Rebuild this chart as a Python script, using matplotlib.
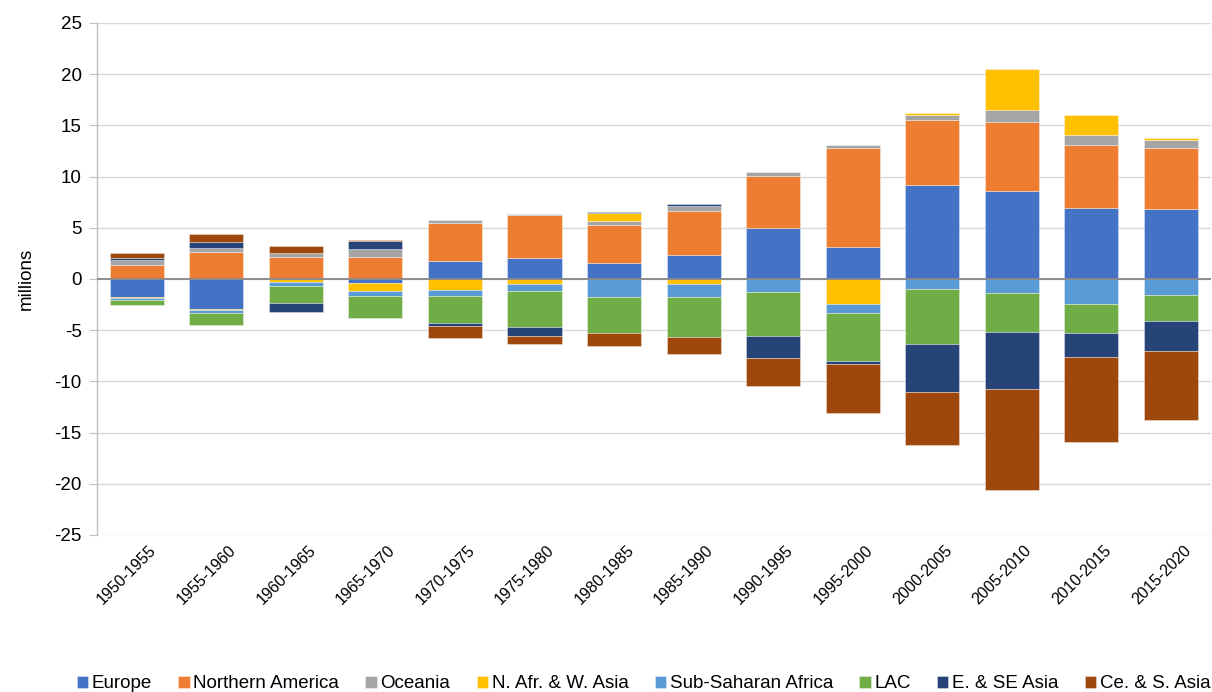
import matplotlib
matplotlib.use("Agg")
import matplotlib.pyplot as plt
import numpy as np

plt.rcParams['font.family'] = ['Liberation Sans', 'DejaVu Sans']
plt.rcParams['axes.unicode_minus'] = False

periods = ["1950-1955", "1955-1960", "1960-1965", "1965-1970", "1970-1975",
           "1975-1980", "1980-1985", "1985-1990", "1990-1995", "1995-2000",
           "2000-2005", "2005-2010", "2010-2015", "2015-2020"]

europe      = [-1.73, -2.90, 0.13, -0.36, 1.79, 2.02, 1.53, 2.38, 4.98, 3.16, 9.15, 8.56, 6.90, 6.84]
n_america   = [1.40, 2.60, 2.02, 2.15, 3.68, 4.23, 3.71, 4.23, 5.08, 9.60, 6.35, 6.77, 6.18, 5.92]
oceania     = [0.46, 0.46, 0.42, 0.81, 0.26, 0.08, 0.46, 0.49, 0.39, 0.33, 0.52, 1.17, 0.94, 0.78]
nafr_wasia  = [-0.16, -0.10, -0.33, -0.81, -1.10, -0.52, 0.72, -0.49, -0.05, -2.44, 0.16, 4.04, 1.95, 0.23]
ssa         = [-0.20, -0.33, -0.39, -0.46, -0.52, -0.68, -1.76, -1.30, -1.20, -0.88, -0.98, -1.37, -2.47, -1.53]
lac         = [-0.42, -1.14, -1.60, -2.15, -2.70, -3.52, -3.48, -3.90, -4.30, -4.69, -5.34, -3.78, -2.80, -2.60]
e_se_asia   = [0.16, 0.52, -0.94, 0.75, -0.23, -0.81, 0.16, 0.20, -2.21, -0.33, -4.72, -5.60, -2.31, -2.86]
ce_s_asia   = [0.55, 0.85, 0.62, 0.07, -1.20, -0.78, -1.33, -1.63, -2.67, -4.72, -5.18, -9.83, -8.33, -6.77]

series_names = ["Europe", "Northern America", "Oceania", "N. Afr. & W. Asia",
                "Sub-Saharan Africa", "LAC", "E. & SE Asia", "Ce. & S. Asia"]
series_values = [europe, n_america, oceania, nafr_wasia, ssa, lac, e_se_asia, ce_s_asia]
colors = ["#4472C4", "#ED7D31", "#A5A5A5", "#FFC000", "#5B9BD5", "#70AD47", "#264478", "#9E480E"]

fig = plt.figure(figsize=(12.12, 6.92), dpi=100)
ax = fig.add_axes([0.080, 0.2269, 0.919, 0.7399])

x = np.arange(len(periods))
pos_base = np.zeros(len(periods))
neg_base = np.zeros(len(periods))
for name, vals, c in zip(series_names, series_values, colors):
    v = np.array(vals, dtype=float)
    base = np.where(v >= 0, pos_base, neg_base)
    ax.bar(x, v, width=0.68, bottom=base, color=c, label=name,
           edgecolor=(1, 1, 1, 0.5), linewidth=0.5, zorder=3)
    pos_base = pos_base + np.where(v >= 0, v, 0)
    neg_base = neg_base + np.where(v < 0, v, 0)

ax.set_xlim(-0.5, len(periods) - 0.5)
ax.set_ylim(-25, 25)
ax.set_yticks(np.arange(-25, 26, 5))
ax.yaxis.grid(True, color="#D9D9D9", linewidth=1.0, zorder=0)
ax.set_axisbelow(True)
ax.axhline(0, color="#868686", linewidth=1.3, zorder=4)

for s in ["top", "right", "bottom"]:
    ax.spines[s].set_visible(False)
ax.spines["left"].set_color("#BFBFBF")
ax.spines["left"].set_linewidth(1.0)

ax.tick_params(axis="y", length=6, color="#BFBFBF", labelsize=13.5, labelcolor="#000000", pad=5)
ax.tick_params(axis="x", length=0, labelsize=11.5, pad=4)
ax.set_xticks(x)
ax.set_xticklabels(periods, rotation=45, ha="right", rotation_mode="anchor")
for lbl in ax.get_xticklabels():
    lbl.set_transform(lbl.get_transform() + matplotlib.transforms.ScaledTranslation(0.12, -0.02, fig.dpi_scale_trans))

ax.set_ylabel("millions", fontsize=13.5, labelpad=14)

handles, labels = ax.get_legend_handles_labels()
fig.legend(handles, labels, loc="center", bbox_to_anchor=(0.531, 0.012), ncol=8,
           frameon=False, fontsize=13.5, handlelength=0.6, handleheight=0.6,
           handletextpad=0.2, columnspacing=1.4)

fig.savefig("out.png", dpi=100)
